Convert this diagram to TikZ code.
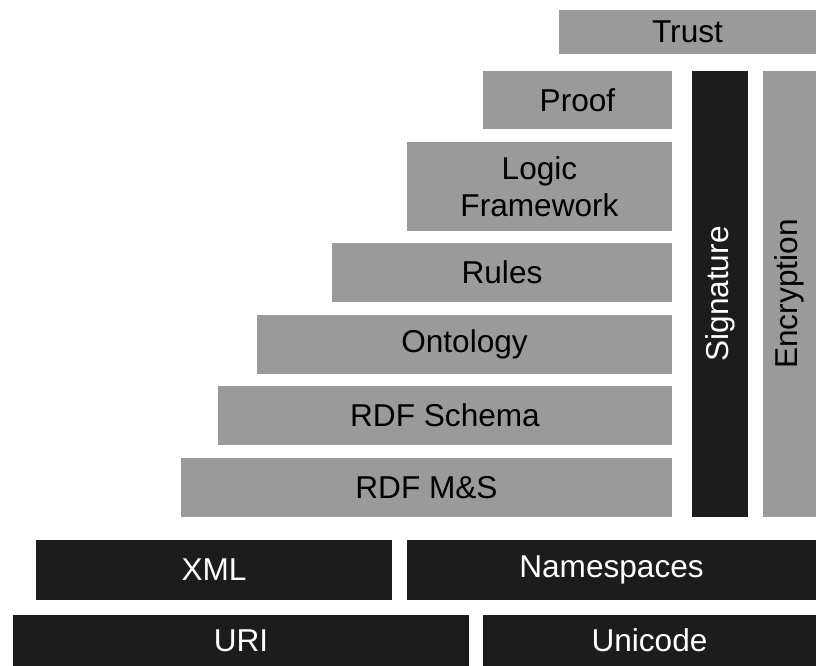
\documentclass[tikz,border=0pt]{standalone}
\usepackage{fontspec}
\setmainfont{Liberation Sans}
\definecolor{boxgray}{HTML}{9A9A9A}
\definecolor{boxblack}{HTML}{1C1C1C}
\begin{document}
\begin{tikzpicture}[x=1pt,y=-1pt,
  layer/.style={anchor=north west,inner sep=0pt,outer sep=0pt,draw=none,align=center,
    font=\fontsize{31.6}{37}\selectfont},
  graybox/.style={layer,fill=boxgray,text=black},
  blackbox/.style={layer,fill=boxblack,text=white}]
\useasboundingbox[fill=white] (0,0) rectangle (816,666);
\node[graybox,minimum width=257pt,minimum height=44pt] (trust) at (559,10) {Trust};
\node[graybox,minimum width=189pt,minimum height=58pt] (proof) at (483,71) {Proof};
\node[graybox,minimum width=265pt,minimum height=89pt] (logic) at (407,142) {Logic\\Framework};
\node[graybox,minimum width=340pt,minimum height=59pt] (rules) at (332,243) {Rules};
\node[graybox,minimum width=415pt,minimum height=59pt] (onto) at (257,315) {Ontology};
\node[graybox,minimum width=454pt,minimum height=59pt] (rdfs) at (218,386) {RDF Schema};
\node[graybox,minimum width=491pt,minimum height=59pt] (rdfms) at (181,458) {RDF M\&S};
\node[blackbox,minimum width=56pt,minimum height=446pt] (sig) at (692,71) {};
\node[rotate=90,text=white,font=\fontsize{31.6}{37}\selectfont] (sigtext) at (sig.center) {Signature};
\node[graybox,minimum width=53pt,minimum height=446pt] (enc) at (763,71) {};
\node[rotate=90,text=black,font=\fontsize{31.6}{37}\selectfont] (enctext) at (enc.center) {Encryption};
\node[blackbox,minimum width=356pt,minimum height=60pt] (xml) at (36,540) {XML};
\node[blackbox,minimum width=409pt,minimum height=60pt] (ns) at (407,540) {Namespaces};
\node[blackbox,minimum width=456pt,minimum height=51pt] (uri) at (13,615) {URI};
\node[blackbox,minimum width=333pt,minimum height=51pt] (uni) at (483,615) {Unicode};
\end{tikzpicture}
\end{document}
